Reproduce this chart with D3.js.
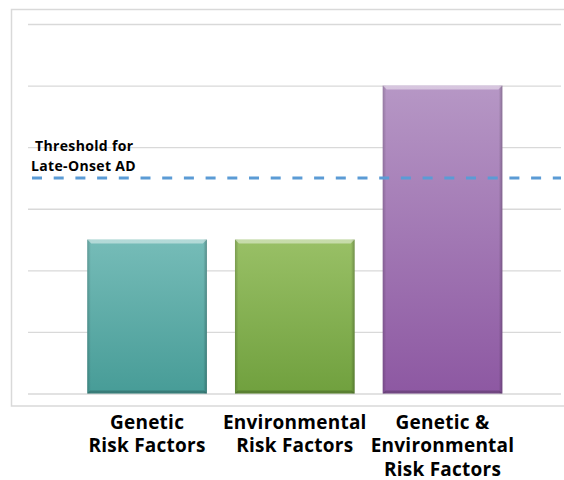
<!DOCTYPE html>
<html><head><meta charset="utf-8">
<script src="https://cdn.jsdelivr.net/npm/d3@7"></script>
<style>
html,body{margin:0;padding:0;background:#fff;}
svg{display:block;font-family:"Open Sans","Noto Sans",sans-serif;}
</style></head>
<body>
<svg id="chart" width="564" height="480"></svg>
<script>
const categories = [["Genetic","Risk Factors"],["Environmental","Risk Factors"],["Genetic &","Environmental","Risk Factors"]];
const keys = ["genetic","environmental","combined"];
const values = [2.5, 2.5, 5];
const threshold = 3.5;
const thresholdLabel = ["Threshold for","Late-Onset AD"];
const yTicks = [0,1,2,3,4,5,6];
const colorsTop = ["#76BCB8","#99C066","#B697C5"];
const colorsBottom = ["#479C97","#70A03E","#8D58A2"];

const svg = d3.select("#chart");
const defs = svg.append("defs");

// frame
svg.append("rect").attr("x",11.5).attr("y",9.5).attr("width",600).attr("height",396.5)
  .attr("fill","none").attr("stroke","#d9d9d9").attr("stroke-width",1.5);

const y = d3.scaleLinear().domain([0,6]).range([393.5,24]);
const x = d3.scaleBand().domain(keys).range([73.2,516.4]).paddingInner(0.19).paddingOuter(0.095);

// gridlines
const grid = svg.append("g").attr("transform","translate(28,0)")
  .call(d3.axisLeft(y).tickValues(yTicks).tickSize(-533).tickFormat(""));
grid.select(".domain").remove();
grid.selectAll(".tick line").attr("stroke","#d9d9d9").attr("stroke-width",1.3);

// gradients
keys.forEach((k,i)=>{
  const g = defs.append("linearGradient").attr("id","g"+i).attr("x1",0).attr("y1",0).attr("x2",0).attr("y2",1);
  g.append("stop").attr("offset","0%").attr("stop-color",colorsTop[i]);
  g.append("stop").attr("offset","100%").attr("stop-color",colorsBottom[i]);
  const s = defs.append("linearGradient").attr("id","s"+i).attr("x1",0).attr("y1",0).attr("x2",1).attr("y2",0);
  s.append("stop").attr("offset","0%").attr("stop-color","#000").attr("stop-opacity",0.18);
  s.append("stop").attr("offset","3%").attr("stop-color","#000").attr("stop-opacity",0);
  s.append("stop").attr("offset","97%").attr("stop-color","#000").attr("stop-opacity",0);
  s.append("stop").attr("offset","100%").attr("stop-color","#000").attr("stop-opacity",0.25);
});

const bars = svg.append("g").selectAll("g").data(values).join("g");
bars.append("rect")
  .attr("x",(d,i)=>x(keys[i])).attr("y",d=>y(d))
  .attr("width",x.bandwidth()).attr("height",d=>y(0)-y(d))
  .attr("fill",(d,i)=>"url(#g"+i+")");
bars.append("rect")
  .attr("x",(d,i)=>x(keys[i])).attr("y",d=>y(d))
  .attr("width",x.bandwidth()).attr("height",d=>y(0)-y(d))
  .attr("fill",(d,i)=>"url(#s"+i+")");
// top highlight bevel
bars.append("path")
  .attr("d",(d,i)=>{const x0=x(keys[i]),x1=x0+x.bandwidth(),t=y(d);
     return `M${x0},${t}L${x1},${t}L${x1-4},${t+4}L${x0+4},${t+4}Z`;})
  .attr("fill","#fff").attr("fill-opacity",0.45);
// bottom dark bevel
bars.append("path")
  .attr("d",(d,i)=>{const x0=x(keys[i]),x1=x0+x.bandwidth(),b=y(0);
     return `M${x0},${b}L${x1},${b}L${x1-3},${b-3}L${x0+3},${b-3}Z`;})
  .attr("fill","#000").attr("fill-opacity",0.2);

// threshold dashed line
svg.append("line").attr("x1",32).attr("x2",561).attr("y1",y(threshold)).attr("y2",y(threshold))
  .attr("stroke","#5B9BD5").attr("stroke-width",3).attr("stroke-dasharray","10,11.7");

svg.append("text").attr("font-weight","bold").attr("font-size",14).attr("letter-spacing",0.35).attr("fill","#000")
  .selectAll("tspan").data(thresholdLabel).join("tspan")
  .attr("x",(d,i)=>i===0?35:31).attr("y",(d,i)=>151+i*19.5).text(d=>d);

// category labels
categories.forEach((lines,i)=>{
  svg.append("text").attr("text-anchor","middle").attr("font-weight","bold").attr("font-size",19).attr("letter-spacing",0.25).attr("fill","#000")
    .selectAll("tspan").data(lines).join("tspan")
    .attr("x",x(keys[i])+x.bandwidth()/2).attr("y",(d,j)=>428.5+j*23.5).text(d=>d);
});
</script>
</body></html>
